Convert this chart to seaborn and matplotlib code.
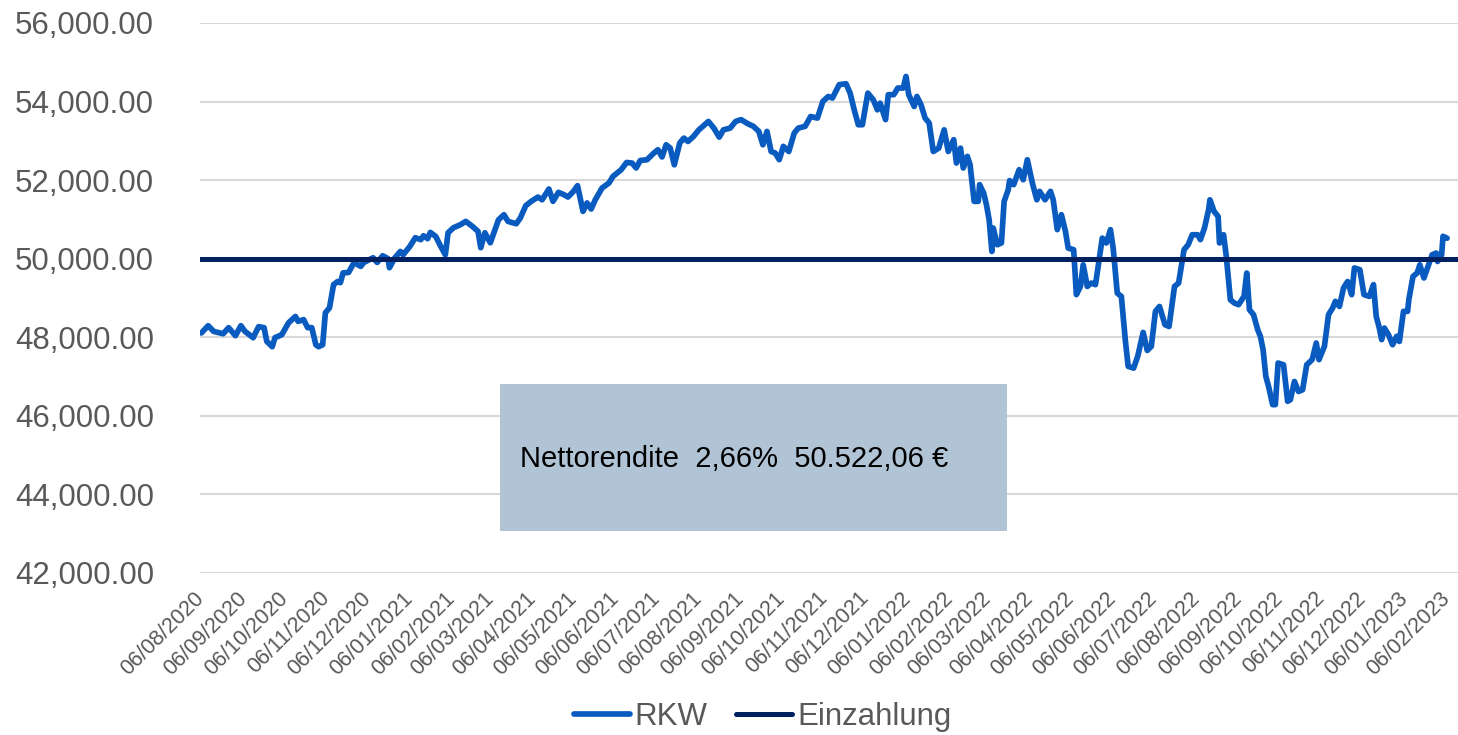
import pandas as pd
import seaborn as sns
import matplotlib.pyplot as plt
import matplotlib.dates as mdates
from matplotlib.ticker import FuncFormatter
from matplotlib.patches import Rectangle

# RKW value (days counted from the first date)
start_date = "2020-08-06"
rkw_day = [0, 5, 9, 16, 20, 25, 29, 32, 38, 42, 46, 48, 52, 54, 59, 64, 69, 71, 75, 78,
           81, 84, 86, 89, 91, 94, 97, 100, 102, 104, 108, 112, 117, 119, 126, 129, 133, 137, 138, 142,
           146, 148, 153, 157, 161, 163, 166, 168, 172, 175, 179, 181, 185, 190, 194, 199, 203, 205, 208, 212,
           218, 222, 225, 231, 234, 238, 242, 247, 250, 255, 258, 262, 266, 269, 273, 276, 280, 283, 286, 289,
           294, 299, 302, 308, 312, 316, 319, 322, 327, 332, 335, 338, 341, 344, 347, 351, 354, 357, 361, 365,
           368, 372, 376, 380, 383, 388, 392, 396, 401, 405, 409, 412, 415, 418, 421, 424, 427, 431, 435, 438,
           443, 447, 452, 456, 460, 463, 468, 473, 476, 479, 482, 485, 489, 493, 496, 498, 502, 504, 508, 511,
           515, 517, 519, 523, 525, 528, 531, 534, 537, 541, 545, 548, 552, 554, 557, 559, 562, 564, 567, 570,
           571, 574, 576, 578, 580, 581, 584, 587, 589, 592, 593, 596, 600, 603, 606, 610, 613, 615, 619, 623,
           625, 628, 631, 634, 636, 640, 642, 645, 647, 650, 653, 656, 658, 661, 664, 667, 669, 672, 675, 678,
           680, 684, 687, 691, 694, 697, 700, 703, 707, 710, 714, 717, 721, 724, 727, 731, 733, 736, 739, 740,
           743, 746, 747, 750, 752, 755, 758, 761, 765, 767, 769, 772, 775, 777, 779, 781, 783, 786, 788, 790,
           794, 797, 799, 802, 805, 808, 811, 815, 818, 820, 824, 827, 830, 832, 835, 838, 841, 844, 846, 850,
           853, 857, 860, 862, 864, 866, 868, 871, 874, 877, 879, 882, 885, 886, 889, 892, 894, 897, 900, 903,
           906, 907, 910, 911, 914]
rkw_value = [48110, 48295, 48150, 48090, 48245, 48040, 48295, 48150, 47990, 48270, 48245, 47895, 47760, 47990, 48065, 48370, 48530, 48405, 48450, 48245,
             48245, 47810, 47760, 47810, 48625, 48750, 49340, 49420, 49390, 49640, 49650, 49900, 49805, 49900, 50025, 49905, 50075, 50000, 49770, 50025,
             50185, 50100, 50315, 50535, 50485, 50585, 50510, 50670, 50565, 50355, 50100, 50660, 50790, 50865, 50950, 50820, 50695, 50280, 50660, 50405,
             50990, 51120, 50950, 50890, 51035, 51350, 51460, 51570, 51500, 51775, 51460, 51690, 51630, 51570, 51715, 51860, 51205, 51420, 51265, 51500,
             51800, 51925, 52095, 52265, 52450, 52435, 52310, 52500, 52520, 52690, 52775, 52590, 52900, 52815, 52390, 52945, 53070, 52985, 53110, 53280,
             53370, 53495, 53325, 53095, 53280, 53325, 53495, 53540, 53435, 53370, 53240, 52900, 53240, 52730, 52690, 52520, 52860, 52730, 53200, 53325,
             53370, 53620, 53580, 54005, 54130, 54090, 54430, 54455, 54215, 53790, 53410, 53410, 54215, 54045, 53790, 53960, 53540, 54175, 54175, 54345,
             54345, 54640, 54175, 53875, 54130, 53920, 53580, 53455, 52730, 52815, 53280, 52730, 53030, 52435, 52815, 52310, 52605, 52390, 51460, 51460,
             51885, 51670, 51375, 50990, 50185, 50780, 50355, 50400, 51460, 51755, 51990, 51885, 52265, 52010, 52520, 51885, 51500, 51715, 51500, 51715,
             51500, 50740, 51120, 50695, 50270, 50230, 49085, 49295, 49845, 49295, 49380, 49340, 49805, 50525, 50400, 50740, 50270, 49125, 49040, 47895,
             47260, 47215, 47515, 48125, 47665, 47770, 48660, 48785, 48320, 48275, 49295, 49380, 50230, 50355, 50610, 50610, 50485, 50780, 51245, 51500,
             51205, 51075, 50400, 50610, 50060, 48955, 48870, 48830, 49040, 49635, 48700, 48575, 48195, 48025, 47685, 47005, 46750, 46285, 46285, 47345,
             47300, 46370, 46410, 46875, 46620, 46665, 47300, 47430, 47855, 47430, 47770, 48575, 48745, 48915, 48785, 49255, 49420, 49085, 49765, 49720,
             49085, 49040, 49340, 48530, 48275, 47940, 48235, 48065, 47810, 48025, 47895, 48660, 48660, 48975, 49550, 49635, 49845, 49510, 49805, 50100,
             50145, 49930, 50100, 50570, 50522.06]

einzahlung_dates = ["2020-08-05", "2023-02-14"]
einzahlung_value = [50000, 50000]

tick_dates = pd.date_range("2020-08-06", "2023-02-06", freq=pd.DateOffset(months=1))
y_ticks = list(range(42000, 56001, 2000))
box_text = "Nettorendite  2,66%  50.522,06 €"

rkw_dates = pd.Timestamp(start_date) + pd.to_timedelta(rkw_day, unit="D")
ein_dates = pd.to_datetime(einzahlung_dates)

sns.set_theme(style="white")
plt.rcParams['font.family'] = ['Liberation Sans', 'DejaVu Sans']

fig = plt.figure(figsize=(14.58, 7.35), dpi=100)
ax = fig.add_axes([200 / 1458, 1 - 573 / 735, 1258 / 1458, 550 / 735])

sns.lineplot(x=rkw_dates, y=rkw_value, ax=ax, color="#0A5BC0", linewidth=4.1, label="RKW")
sns.lineplot(x=ein_dates, y=einzahlung_value, ax=ax, color="#002060", linewidth=3.6, label="Einzahlung")

ax.set_xlim(ein_dates[0], ein_dates[1])
ax.set_ylim(42000, 56000)
ax.set_yticks(y_ticks)
ax.yaxis.set_major_formatter(FuncFormatter(lambda v, p: f"{v:,.2f}"))
ax.set_xticks(tick_dates)
ax.xaxis.set_major_formatter(mdates.DateFormatter("%d/%m/%Y"))
ax.set_xlabel("")
ax.set_ylabel("")

ax.yaxis.grid(True, color="#D9D9D9", linewidth=1.5)
ax.xaxis.grid(False)
ax.set_axisbelow(True)
sns.despine(ax=ax, left=True, bottom=True)

ax.tick_params(axis="y", length=0, pad=33, labelsize=22.5, labelcolor="#595959")
ax.tick_params(axis="x", length=0, pad=16, labelsize=15.5, labelcolor="#595959")
for lbl in ax.get_xticklabels():
    lbl.set_rotation(45)
    lbl.set_ha("right")
    lbl.set_va("center")
    lbl.set_rotation_mode("anchor")

# text box
ax.add_patch(Rectangle((300 / 1258, 42 / 550), 507 / 1258, 147 / 550, transform=ax.transAxes,
                       facecolor="#B0C4D6", edgecolor="none", zorder=5, clip_on=False))
ax.text(320 / 1258, 114 / 550, box_text, transform=ax.transAxes, ha="left", va="center",
        fontsize=21, color="black", zorder=6)

handles, labels = ax.get_legend_handles_labels()
ax.get_legend().remove()
leg = fig.legend(handles, labels, loc="center", bbox_to_anchor=(0.523, 0.0245), ncol=2,
                 frameon=False, fontsize=22.5, handlelength=1.8, handletextpad=0.15,
                 columnspacing=0.9)
for t in leg.get_texts():
    t.set_color("#595959")

fig.savefig("out.png", dpi=100)
